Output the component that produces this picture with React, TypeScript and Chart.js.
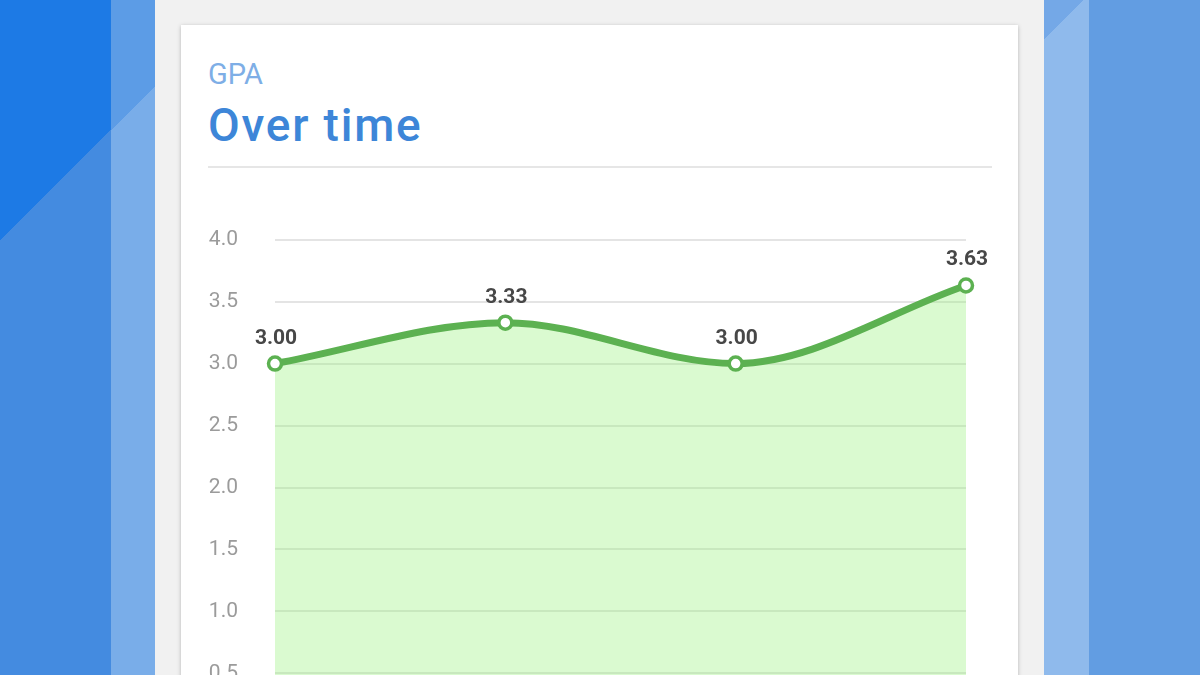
import { useEffect, useRef } from "react";
import { Chart, registerables } from "chart.js";

Chart.register(...registerables);

const terms = ["Term 1", "Term 2", "Term 3", "Term 4"];
const gpaValues = [3.0, 3.33, 3.0, 3.63];
const yTicksMin = 0;
const yTicksMax = 4;
const yTickStep = 0.5;

// draws the value above each point
const valueLabels = {
  id: "valueLabels",
  afterDatasetsDraw(chart: any) {
    const ctx = chart.ctx;
    const meta = chart.getDatasetMeta(0);
    ctx.save();
    ctx.font = "bold 21px Roboto";
    ctx.fillStyle = "#474747";
    ctx.textAlign = "center";
    ctx.textBaseline = "alphabetic";
    meta.data.forEach((pt: any, i: number) => {
      const v = chart.data.datasets[0].data[i] as number;
      ctx.fillText(v.toFixed(2), pt.x + 1, pt.y - 20);
    });
    ctx.restore();
  },
};

function GpaChart() {
  const canvasRef = useRef<HTMLCanvasElement>(null);

  useEffect(() => {
    const canvas = canvasRef.current;
    if (!canvas) return;
    Chart.getChart(canvas)?.destroy();

    const chart = new Chart(canvas, {
      type: "line",
      data: {
        labels: terms,
        datasets: [
          {
            data: gpaValues,
            borderColor: "#5cb151",
            borderWidth: 7,
            backgroundColor: "rgba(150, 240, 120, 0.35)",
            fill: "origin",
            cubicInterpolationMode: "monotone",
            pointRadius: 6.5,
            pointBorderWidth: 3.5,
            pointBackgroundColor: "#ffffff",
            pointBorderColor: "#5cb151",
          },
        ],
      },
      options: {
        animation: false,
        responsive: false,
        layout: { padding: { top: 48, left: 27, right: 52, bottom: 16 } },
        plugins: { legend: { display: false }, tooltip: { enabled: false } },
        scales: {
          x: { display: false, offset: false },
          y: {
            min: yTicksMin,
            max: yTicksMax,
            border: { display: false },
            grid: { color: "#e4e4e4", lineWidth: 2, drawTicks: false },
            ticks: {
              stepSize: yTickStep,
              padding: 37,
              color: "#9b9b9b",
              font: { family: "Roboto", size: 21 },
              callback: (v: any) => Number(v).toFixed(1),
            },
            afterFit: (scale: any) => {
              scale.width = 67;
            },
          },
        },
      },
      plugins: [valueLabels],
    });

    return () => chart.destroy();
  }, []);

  return (
    <div style={{ position: "absolute", left: 181, top: 190 }}>
      <canvas
        ref={canvasRef}
        width={837}
        height={595}
        style={{ width: 837, height: 595, display: "block" }}
        aria-label="GPA over time line chart"
      />
    </div>
  );
}

export default function App() {
  return (
    <div
      style={{
        position: "fixed",
        inset: 0,
        width: 1200,
        height: 675,
        overflow: "hidden",
        background: "#629de2",
        fontFamily: "Roboto, sans-serif",
      }}
    >
      {/* left background stripes */}
      <div
        style={{
          position: "absolute", left: 0, top: 0, width: 111, height: 675,
          background: "linear-gradient(135deg, #1d7ae5 170px, #448be0 170px)",
        }}
      />
      <div
        style={{
          position: "absolute", left: 111, top: 0, width: 44, height: 675,
          background: "linear-gradient(135deg, #5c9ce6 92px, #79ade9 92px)",
        }}
      />
      {/* right stripe */}
      <div
        style={{
          position: "absolute", left: 1044, top: 0, width: 45, height: 675,
          background: "linear-gradient(135deg, #74a8e7 28px, #8fbaec 28px)",
        }}
      />
      {/* grey panel */}
      <div style={{ position: "absolute", left: 155, top: 0, width: 889, height: 675, background: "#f1f1f1" }} />
      {/* card */}
      <div
        style={{
          position: "absolute", left: 181, top: 25, width: 837, height: 700,
          background: "#ffffff", boxShadow: "0 1px 4px rgba(0,0,0,0.25)",
        }}
      />
      <div style={{ position: "absolute", left: 208, top: 57, fontSize: 29, color: "#7eaee6", lineHeight: "34px" }}>
        GPA
      </div>
      <div
        style={{
          position: "absolute", left: 208, top: 98, fontSize: 46, fontWeight: 500,
          letterSpacing: 1.8, color: "#3d86d8", lineHeight: "54px",
        }}
      >
        Over time
      </div>
      <div style={{ position: "absolute", left: 208, top: 166, width: 784, height: 2, background: "#e6e6e6" }} />
      <GpaChart />
    </div>
  );
}
